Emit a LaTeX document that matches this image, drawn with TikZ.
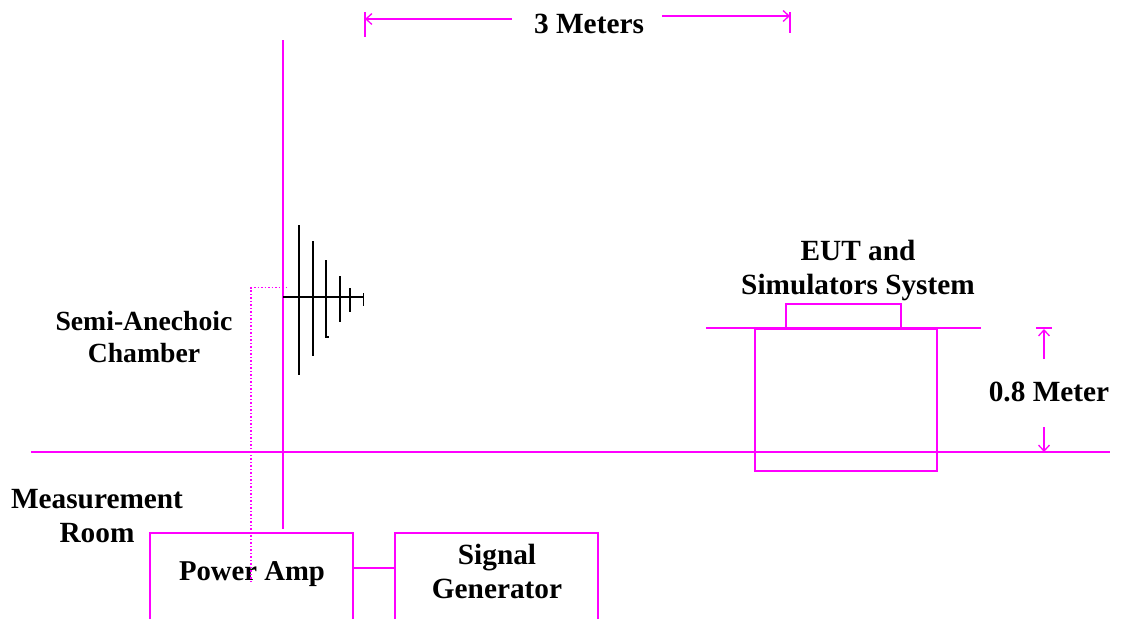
\documentclass[tikz,border=0pt]{standalone}
\usepackage{fontspec}
\setmainfont{Liberation Serif}
\usetikzlibrary{arrows.meta}
\definecolor{mag}{RGB}{255,0,255}
\tikzset{
 ml/.style={draw=mag,line width=2pt},
 mlt/.style={draw=mag,line width=1.8pt},
 ant/.style={draw=black,line width=2pt},
 antt/.style={draw=black,line width=1.4pt},
 dim/.style={draw=mag,line width=1.5pt,-{Straight Barb[length=6pt,width=11pt,line width=1.3pt]}},
 lab/.style={font=\fontsize{29.3}{34}\selectfont\bfseries,align=center,inner sep=0pt,text=black},
 labs/.style={lab,font=\fontsize{27.7}{32}\selectfont\bfseries},
}
\begin{document}
\begin{tikzpicture}[x=1pt,y=-1pt]
\useasboundingbox (0,0) rectangle (1126,619);
% labels
\node[lab] (three) at (589,24) {3 Meters};
\node[lab] (eut) at (858,270) {EUT and\\Simulators System};
\node[labs] (chamber) at (144,337.5) {Semi-Anechoic\\Chamber};
\node[lab] (meas) at (97,516.5) {Measurement\\Room};
\node[lab] (zero) at (1049,392) {0.8 Meter};
\node[lab,font=\fontsize{28.7}{34}\selectfont\bfseries] (pa) at (252,574) {Power Amp};
\node[lab] (sg) at (497,571) {Signal\\Generator};
% coordinates
\coordinate (lt) at (365,19);
\coordinate (ls) at (512,19);
\coordinate (rs) at (662,16);
\coordinate (rt) at (790,16);
\coordinate (ztop) at (1044,329);
\coordinate (ztopS) at (1044,359);
\coordinate (zbot) at (1044,452);
\coordinate (zbotS) at (1044,427);
\coordinate (mastT) at (283,40);
\coordinate (mastB) at (283,529);
\coordinate (floorL) at (31,452);
\coordinate (floorR) at (1110,452);
\coordinate (boomL) at (283,297);
\coordinate (boomR) at (364,297);
\coordinate (paE) at (353,568);
\coordinate (sgW) at (395,568);
% dimension lines
\draw[dim] (ls) -- (lt);
\draw[dim] (rs) -- (rt);
\draw[mlt] (365,12) -- (365,37);
\draw[mlt] (790,12) -- (790,33);
\draw[dim] (ztopS) -- (ztop);
\draw[dim] (zbotS) -- (zbot);
\draw[mlt] (1036,328) -- (1052,328);
% structure
\draw[ml] (mastT) -- (mastB);
\draw[ml] (floorL) -- (floorR);
\draw[mlt] (706,328) -- (981,328);
\draw[mlt] (786,328) -- (786,304) -- (901,304) -- (901,328);
\draw[mlt] (755,329) rectangle (937,471);
% instruments
\draw[ml] (150,619) -- (150,533) -- (353,533) -- (353,619);
\draw[ml] (395,619) -- (395,533) -- (598,533) -- (598,619);
\draw[ml] (paE) -- (sgW);
% dotted feed
\draw[draw=mag,line width=1.5pt,dotted] (251,582) -- (251,287.5) -- (288,287.5);
% antenna
\draw[ant] (boomL) -- (boomR);
\draw[ant] (299,225) -- (299,375);
\draw[ant] (313,241) -- (313,356);
\draw[antt] (326,260) -- (326,337) -- (329,337);
\draw[ant] (340,276) -- (340,322);
\draw[antt] (350,288) -- (350,312);
\draw[antt] (363.5,293) -- (363.5,306);
\end{tikzpicture}
\end{document}
